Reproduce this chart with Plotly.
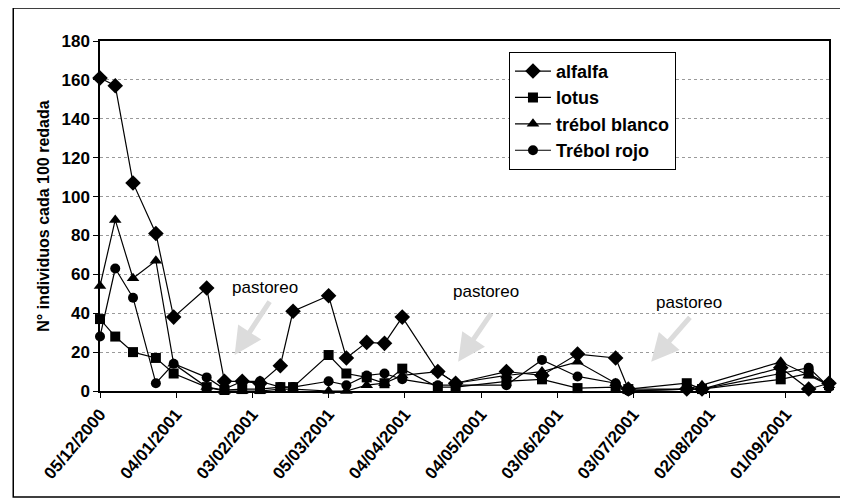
import plotly.graph_objects as go

fechas = ["2000-12-05", "2000-12-11", "2000-12-18", "2000-12-27", "2001-01-03",
          "2001-01-16", "2001-01-23", "2001-01-30", "2001-02-06", "2001-02-14",
          "2001-02-19", "2001-03-05", "2001-03-12", "2001-03-20", "2001-03-27",
          "2001-04-03", "2001-04-17", "2001-04-24", "2001-05-14", "2001-05-28",
          "2001-06-11", "2001-06-26", "2001-07-01", "2001-07-24", "2001-07-30",
          "2001-08-30", "2001-09-10", "2001-09-18"]

alfalfa = [161, 157, 107, 81, 38, 53, 5, 5, 4, 13, 41, 49, 17, 25, 24.5, 38, 10, 4,
           10, 8, 19, 17, 1, 1, 1, 12, 1, 4]
lotus = [37, 28, 20, 17, 9, 2, 0.5, 1, 1, 2, 2, 18.5, 9, 7, 4, 11.5, 2, 2,
         5, 6, 1.5, 2, 1, 4, 1, 6, 9, 3]
trebol_blanco = [54, 88, 58, 67, 14, 2, 0, 0, 0, 1, 1, 0, 0, 3, 4, 8, 10, 4,
                 8, 10, 15, 4, 0, 1, 3, 15, 8, 3]
trebol_rojo = [28, 63, 48, 4, 14, 7, 1, 5, 5, 2, 2, 5, 3, 8, 9, 6, 3, 3,
               3, 16, 7.5, 4, 0, 1, 1, 9, 12, 2]

series = [("alfalfa", alfalfa, "diamond", 12),
          ("lotus", lotus, "square", 10),
          ("trébol blanco", trebol_blanco, "triangle-up", 11),
          ("Trébol rojo", trebol_rojo, "circle", 10)]

tick_fechas = ["2000-12-05", "2001-01-04", "2001-02-03", "2001-03-05", "2001-04-04",
               "2001-05-04", "2001-06-03", "2001-07-03", "2001-08-02", "2001-09-01"]
tick_textos = ["05/12/2000", "04/01/2001", "03/02/2001", "05/03/2001", "04/04/2001",
               "04/05/2001", "03/06/2001", "03/07/2001", "02/08/2001", "01/09/2001"]

y_ticks = list(range(0, 181, 20))

# "pastoreo" notes: text position and arrow tip
pastoreo_texto_x = ["2001-02-08", "2001-05-06", "2001-07-25"]
pastoreo_texto_y = [53, 51, 45.5]
pastoreo_flecha_x = ["2001-01-27", "2001-04-25", "2001-07-10"]
pastoreo_flecha_y = [18.5, 15, 15]

FONT = "Arial, Liberation Sans, sans-serif"

fig = go.Figure()
for i, (name, vals, sym, size) in enumerate(series):
    fig.add_trace(go.Scatter(
        x=fechas, y=vals, name=name, mode="lines+markers",
        line=dict(color="black", width=1.2),
        marker=dict(symbol=sym, size=size, color="black"),
        cliponaxis=False, legendgroup=str(i)))

arrow_offsets = [(36, -55), (34, -50), (40, -46)]
for fx, fy, (ax, ay) in zip(pastoreo_flecha_x, pastoreo_flecha_y, arrow_offsets):
    fig.add_annotation(x=fx, y=fy, xref="x", yref="y", text="",
                       showarrow=True, ax=ax, ay=ay, arrowhead=2,
                       arrowsize=1.1, arrowwidth=5, arrowcolor="#dcdcdc")
for tx, ty in zip(pastoreo_texto_x, pastoreo_texto_y):
    fig.add_annotation(x=tx, y=ty, xref="x", yref="y", text="pastoreo",
                       showarrow=False,
                       font=dict(family=FONT, size=17, color="black"))

fig.update_layout(
    width=840, height=496,
    margin=dict(l=92, r=19, t=33, b=113),
    paper_bgcolor="white", plot_bgcolor="white",
    font=dict(family=FONT, color="black"),
    showlegend=True,
    legend=dict(x=0.561, y=0.969, xanchor="left", yanchor="top",
                bordercolor="black", borderwidth=1, bgcolor="white",
                font=dict(family=FONT, size=18, color="black", weight="bold"),
                tracegroupgap=0, traceorder="grouped", itemwidth=36),
    xaxis=dict(type="date", range=["2000-12-05", "2001-09-18"],
               tickvals=tick_fechas, ticktext=tick_textos, tickangle=-50,
               tickfont=dict(family=FONT, size=17, color="black", weight="bold"),
               ticks="outside", ticklen=5, tickcolor="black",
               showline=True, linecolor="black", linewidth=1.5, mirror=True,
               showgrid=False, zeroline=False),
    yaxis=dict(range=[0, 180], tickvals=y_ticks,
               tickfont=dict(family=FONT, size=17, color="black", weight="bold"),
               ticks="outside", ticklen=5, tickcolor="black",
               showline=True, linecolor="black", linewidth=1.5, mirror=True,
               showgrid=True, gridcolor="#9a9a9a", griddash="dot", gridwidth=1,
               zeroline=False,
               title=dict(text="N° individuos cada 100 redada", standoff=8,
                          font=dict(family=FONT, size=16, color="black", weight="bold"))),
)

# outer frame of the chart
fig.add_shape(type="rect", xref="paper", yref="paper",
              x0=-0.119, x1=1.021, y0=-0.303, y1=1.094,
              line=dict(color="black", width=1.5))

fig.write_html("out.html")
